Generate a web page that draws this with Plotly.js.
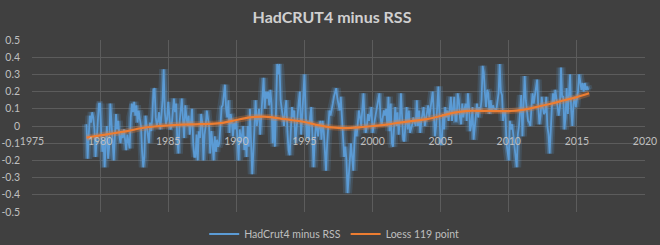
<!DOCTYPE html>
<html>
<head>
<meta charset="utf-8">
<script src="https://cdn.plot.ly/plotly-3.0.1.min.js"></script>
<style>
html,body{margin:0;padding:0;background:#404040;}
#chart{width:660px;height:245px;}
</style>
</head>
<body>
<div id="chart"></div>
<script>
// Monthly HadCRUT4 minus RSS, Jan 1979 .. Nov 2015
const startYear = 1979;
const y1979 = [0.01, -0.19, -0.05, 0.06, 0.02, 0.08, 0.05, -0.02, -0.18, -0.04, 0.03, 0.13];
const y1980 = [0.13, -0.05, -0.15, -0.08, -0.24, -0.1, 0.0, -0.19, -0.12, 0.13, 0.02, -0.08];
const y1981 = [-0.2, -0.06, 0.07, -0.02, 0.03, -0.06, -0.1, -0.03, -0.07, -0.02, -0.11, -0.14];
const y1982 = [-0.05, -0.08, -0.13, 0.05, 0.13, 0.08, 0.14, 0.06, 0.12, 0.02, 0.09, 0.04];
const y1983 = [0.0, -0.15, -0.24, -0.18, 0.06, 0.0, -0.06, -0.1, 0.02, -0.03, 0.05, 0.21];
const y1984 = [0.22, 0.05, 0.0, 0.03, 0.08, -0.02, 0.06, 0.15, 0.33, 0.08, 0.01, 0.04];
const y1985 = [0.14, 0.05, -0.02, 0.0, 0.1, 0.16, 0.08, 0.13, -0.08, -0.16, 0.02, 0.12];
const y1986 = [0.16, 0.04, -0.07, 0.12, 0.03, 0.0, 0.06, -0.05, 0.02, 0.1, -0.1, -0.18];
const y1987 = [-0.18, -0.05, -0.2, -0.03, -0.07, 0.07, 0.02, -0.2, -0.05, 0.0, 0.09, 0.03];
const y1988 = [0.0, -0.16, -0.03, -0.1, -0.2, -0.06, -0.15, -0.08, -0.12, -0.1, 0.05, 0.11];
const y1989 = [0.12, 0.2, 0.24, 0.1, 0.05, 0.15, -0.04, 0.07, 0.03, -0.06, 0.02, -0.02];
const y1990 = [0.03, -0.08, -0.2, -0.02, -0.1, -0.05, 0.0, -0.14, -0.06, -0.18, 0.0, -0.12];
const y1991 = [0.1, -0.1, -0.28, -0.15, 0.02, 0.15, 0.0, 0.05, 0.1, -0.05, 0.08, 0.13];
const y1992 = [0.28, 0.1, 0.2, 0.16, 0.2, 0.12, 0.21, 0.13, -0.1, 0.05, -0.12, 0.1];
const y1993 = [0.36, 0.3, 0.36, 0.15, 0.09, 0.05, 0.0, 0.1, 0.15, -0.03, -0.14, -0.17];
const y1994 = [0.0, 0.11, 0.05, 0.09, -0.1, 0.0, 0.07, 0.14, 0.2, -0.05, 0.05, 0.17];
const y1995 = [0.3, 0.1, -0.07, 0.03, -0.08, 0.05, 0.11, -0.05, -0.24, -0.1, 0.0, 0.0];
const y1996 = [-0.06, 0.0, 0.03, -0.08, 0.03, -0.03, -0.12, -0.26, -0.1, 0.03, 0.09, 0.06];
const y1997 = [0.09, 0.13, 0.17, 0.19, 0.22, 0.16, 0.13, 0.09, 0.17, 0.03, -0.05, -0.18];
const y1998 = [-0.12, -0.2, -0.39, -0.3, -0.2, -0.1, -0.18, -0.26, -0.1, 0.0, -0.06, 0.0];
const y1999 = [0.09, 0.05, 0.0, 0.1, 0.19, 0.03, -0.04, 0.0, 0.07, 0.03, 0.08, 0.11];
const y2000 = [-0.04, 0.0, 0.03, 0.07, 0.13, 0.15, 0.19, 0.05, 0.0, 0.05, 0.09, 0.06];
const y2001 = [0.1, 0.0, 0.17, -0.03, 0.13, -0.1, -0.12, 0.0, 0.11, 0.0, 0.08, -0.05];
const y2002 = [0.03, 0.19, 0.0, -0.08, -0.09, 0.0, 0.11, -0.02, 0.09, -0.04, -0.02, 0.01];
const y2003 = [0.05, 0.03, 0.0, 0.15, 0.0, 0.09, -0.04, 0.03, 0.06, 0.11, 0.0, 0.05];
const y2004 = [0.08, 0.12, 0.05, 0.1, 0.14, 0.2, 0.07, -0.06, 0.0, 0.1, 0.23, 0.05];
const y2005 = [-0.11, -0.09, 0.07, -0.02, 0.11, 0.05, 0.09, 0.03, 0.13, 0.17, 0.03, 0.13];
const y2006 = [0.17, 0.03, 0.03, 0.19, 0.15, 0.05, 0.01, 0.13, 0.05, 0.1, 0.13, 0.03];
const y2007 = [0.19, 0.11, -0.03, 0.01, 0.11, -0.08, -0.01, 0.07, 0.13, 0.05, 0.11, 0.09];
const y2008 = [0.15, 0.35, 0.31, 0.19, 0.11, 0.21, 0.19, 0.07, 0.15, 0.09, 0.12, 0.1];
const y2009 = [0.1, 0.09, 0.15, 0.19, 0.36, 0.2, 0.18, 0.03, 0.09, 0.08, -0.1, -0.15];
const y2010 = [-0.2, 0.03, -0.02, 0.01, -0.05, -0.12, -0.2, -0.24, -0.05, 0.0, 0.09, 0.18];
const y2011 = [-0.06, 0.1, 0.29, 0.15, 0.09, 0.03, 0.02, 0.0, 0.11, 0.19, 0.13, 0.17];
const y2012 = [0.23, 0.27, 0.11, 0.01, 0.06, 0.17, 0.11, 0.07, 0.08, 0.17, 0.0, -0.05];
const y2013 = [-0.16, 0.0, 0.11, 0.19, 0.13, 0.21, 0.15, 0.11, 0.06, 0.11, 0.34, 0.17];
const y2014 = [0.17, -0.02, 0.05, 0.22, 0.07, 0.18, 0.3, 0.09, 0.0, 0.13, 0.17, 0.11];
const y2015 = [0.15, 0.2, 0.3, 0.26, 0.21, 0.25, 0.2, 0.25, 0.21, 0.23, 0.21];

// Loess 119 point smooth (values read at the given years)
const loessYears = [1979, 1980, 1981, 1982, 1983, 1984, 1985, 1986, 1987, 1988, 1989, 1990, 1991, 1992, 1993, 1994, 1995, 1996, 1997, 1998, 1999, 2000, 2001, 2002, 2003, 2004, 2005, 2006, 2007, 2008, 2009, 2010, 2011, 2012, 2013, 2014, 2015, 2015.9];
const loessValues = [-0.068, -0.055, -0.042, -0.03, -0.013, -0.003, 0.003, 0.008, 0.01, 0.012, 0.018, 0.035, 0.05, 0.054, 0.046, 0.035, 0.023, 0.005, -0.008, -0.012, -0.008, 0.0, 0.008, 0.02, 0.03, 0.04, 0.058, 0.078, 0.088, 0.088, 0.087, 0.087, 0.094, 0.11, 0.128, 0.148, 0.168, 0.19];

const yTickVals = [-0.5, -0.4, -0.3, -0.2, -0.1, 0, 0.1, 0.2, 0.3, 0.4, 0.5];
const yTickText = ["-0.5", "-0.4", "-0.3", "-0.2", "-0.1", "0", "0.1", "0.2", "0.3", "0.4", "0.5"];
const xTickVals = [1975, 1980, 1985, 1990, 1995, 2000, 2005, 2010, 2015, 2020];
const xTickText = ["1975", "1980", "1985", "1990", "1995", "2000", "2005", "2010", "2015", "2020"];

const years = [y1979,y1980,y1981,y1982,y1983,y1984,y1985,y1986,y1987,y1988,y1989,y1990,y1991,y1992,y1993,y1994,y1995,y1996,y1997,y1998,y1999,y2000,y2001,y2002,y2003,y2004,y2005,y2006,y2007,y2008,y2009,y2010,y2011,y2012,y2013,y2014,y2015];
const xs = [], vs = [];
years.forEach((arr, i) => arr.forEach((v, m) => { xs.push(startYear + i + m / 12); vs.push(v); }));

const blue = '#5b9bd5', orange = '#ed7d31';
const font = "Lato, 'Open Sans', sans-serif";

const traces = [
  {x: xs, y: vs, mode: 'lines', line: {color: 'rgba(91,155,213,0.18)', width: 9}, showlegend: false, hoverinfo: 'skip'},
  {x: xs, y: vs, mode: 'lines', line: {color: 'rgba(91,155,213,0.35)', width: 5}, showlegend: false, hoverinfo: 'skip'},
  {x: xs, y: vs, mode: 'lines', name: 'HadCrut4 minus RSS', line: {color: blue, width: 1.8}},
  {x: loessYears, y: loessValues, mode: 'lines', line: {color: 'rgba(237,125,49,0.3)', width: 6, shape: 'spline'}, showlegend: false, hoverinfo: 'skip'},
  {x: loessYears, y: loessValues, mode: 'lines', name: 'Loess 119 point', line: {color: orange, width: 2.2, shape: 'spline'}}
];

const layout = {
  width: 660, height: 245,
  paper_bgcolor: '#404040', plot_bgcolor: '#404040',
  margin: {l: 32, r: 15, t: 40, b: 33, autoexpand: false},
  font: {family: font, color: '#bfbfbf', size: 11},
  title: {text: '<b>HadCRUT4 minus RSS</b>', x: 0.503, xanchor: 'center', y: 0.927, yanchor: 'middle', font: {family: font, size: 16, color: '#d0d0d0'}},
  xaxis: {range: [1975, 2020], tickvals: xTickVals, ticktext: xTickText, showgrid: true, gridcolor: '#5c5c5c', gridwidth: 1,
          zeroline: false, showline: false, ticks: '', anchor: 'free', position: 0.5, ticklabelstandoff: 7, automargin: false,
          tickfont: {size: 10.5, color: '#bfbfbf'}, fixedrange: true},
  yaxis: {range: [-0.5, 0.5], tickvals: yTickVals, ticktext: yTickText, showgrid: true, gridcolor: '#5c5c5c', gridwidth: 1,
          zeroline: false, showline: false, ticks: '', automargin: false, ticklabelstandoff: 11, tickfont: {size: 10.5, color: '#bfbfbf'}, fixedrange: true},
  legend: {orientation: 'h', x: 0.493, xanchor: 'center', yref: 'container', y: 0.045, yanchor: 'middle', font: {size: 10.5, color: '#bfbfbf'}, bgcolor: 'rgba(0,0,0,0)'},
  showlegend: true
};

Plotly.newPlot('chart', traces, layout, {displayModeBar: false, staticPlot: true});
</script>
</body>
</html>
